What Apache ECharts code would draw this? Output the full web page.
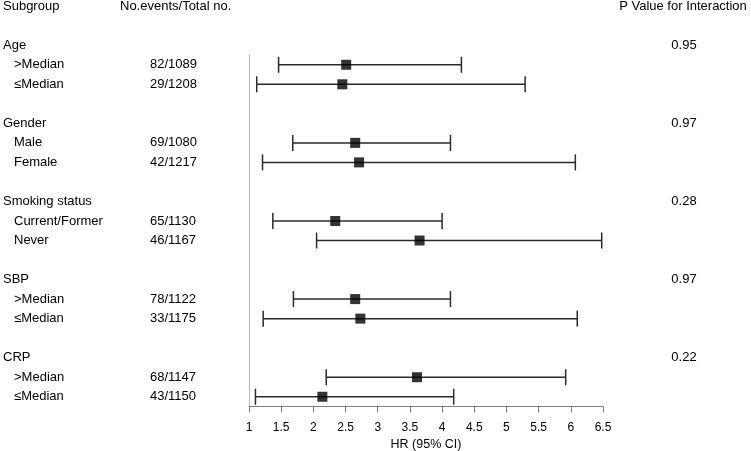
<!DOCTYPE html>
<html>
<head>
<meta charset="utf-8">
<script src="https://cdn.jsdelivr.net/npm/echarts@6/dist/echarts.min.js"></script>
<style>html,body{margin:0;padding:0;background:#fff;}#c{width:751px;height:451px;}</style>
</head>
<body>
<div id="c"></div>
<script>
// ---- data ----
const groups = ['Age', 'Gender', 'Smoking status', 'SBP', 'CRP'];
const pValues = ['0.95', '0.97', '0.28', '0.97', '0.22'];
const subgroups = ['>Median', '≤Median', 'Male', 'Female', 'Current/Former', 'Never', '>Median', '≤Median', '>Median', '≤Median'];
const counts = ['82/1089', '29/1208', '69/1080', '42/1217', '65/1130', '46/1167', '78/1122', '33/1175', '68/1147', '43/1150'];
const hr = [2.51, 2.45, 2.65, 2.71, 2.34, 3.65, 2.65, 2.73, 3.61, 2.14];
const lower = [1.46, 1.12, 1.68, 1.21, 1.37, 2.05, 1.69, 1.22, 2.20, 1.10];
const upper = [4.30, 5.29, 4.13, 6.07, 4.00, 6.48, 4.13, 6.10, 5.92, 4.18];
const headers = ['Subgroup', 'No.events/Total no.', 'P Value for Interaction'];
const xMin = 1, xMax = 6.5, xInterval = 0.5;
const xName = 'HR (95% CI)';

// rows: group g at 4g, subgroups at 4g+1, 4g+2
const subRow = subgroups.map((_, i) => Math.floor(i / 2) * 4 + 1 + (i % 2));
const groupRow = groups.map((_, g) => g * 4);

const chart = echarts.init(document.getElementById('c'), null, {renderer: 'canvas'});
const FONT = 'Liberation Sans, Arial, sans-serif';

chart.setOption({
  animation: false,
  backgroundColor: '#fff',
  grid: {left: 249, right: 148, top: 55, bottom: 44.5, containLabel: false, outerBoundsMode: 'none'},
  xAxis: {
    type: 'value', min: xMin, max: xMax, interval: xInterval,
    name: xName, nameLocation: 'middle', nameGap: 30,
    nameTextStyle: {color: '#000', fontSize: 12.5, fontFamily: FONT},
    axisLine: {show: true, lineStyle: {color: '#808080', width: 1}},
    axisTick: {show: true, length: 6, lineStyle: {color: '#808080'}},
    axisLabel: {color: '#000', fontSize: 12, fontFamily: FONT, margin: 15},
    splitLine: {show: false}
  },
  yAxis: {
    type: 'value', min: 0.5, max: 18.5, inverse: true,
    axisLine: {show: true, onZero: false, lineStyle: {color: '#b8b8b8', width: 1}},
    axisTick: {show: false}, axisLabel: {show: false}, splitLine: {show: false}
  },
  series: [
    {
      type: 'custom',
      clip: false,
      data: subgroups.map((_, i) => [lower[i], upper[i], subRow[i]]),
      renderItem: function (params, api) {
        const a = api.coord([api.value(0), api.value(2)]);
        const b = api.coord([api.value(1), api.value(2)]);
        const h = 8;
        const st = {stroke: '#2b2b2b', lineWidth: 1.5};
        return {
          type: 'group',
          children: [
            {type: 'line', shape: {x1: a[0], y1: a[1], x2: b[0], y2: b[1]}, style: st},
            {type: 'line', shape: {x1: a[0], y1: a[1] - h, x2: a[0], y2: a[1] + h}, style: st},
            {type: 'line', shape: {x1: b[0], y1: b[1] - h, x2: b[0], y2: b[1] + h}, style: st}
          ]
        };
      }
    },
    {
      type: 'scatter',
      symbol: 'rect',
      symbolSize: 10,
      itemStyle: {color: '#000'},
      data: subgroups.map((_, i) => [hr[i], subRow[i]]),
      z: 5
    }
  ]
});

// ---- text table ----
function yOf(row) { return chart.convertToPixel({yAxisIndex: 0}, row); }
const ts = (extra) => Object.assign({fill: '#000', fontSize: 13, fontFamily: FONT, verticalAlign: 'middle'}, extra);
const elements = [];
const hy = yOf(-2);
elements.push({type: 'text', x: 3, y: hy, style: ts({text: headers[0]})});
elements.push({type: 'text', x: 120, y: hy, style: ts({text: headers[1]})});
elements.push({type: 'text', x: 683, y: hy, style: ts({text: headers[2], align: 'center'})});
groups.forEach((g, i) => {
  const y = yOf(groupRow[i]);
  elements.push({type: 'text', x: 3, y: y, style: ts({text: g})});
  elements.push({type: 'text', x: 684, y: y, style: ts({text: pValues[i], align: 'center'})});
});
subgroups.forEach((s, i) => {
  const y = yOf(subRow[i]);
  elements.push({type: 'text', x: 14, y: y, style: ts({text: s})});
  elements.push({type: 'text', x: 150, y: y, style: ts({text: counts[i]})});
});
chart.setOption({graphic: {elements: elements}});
</script>
</body>
</html>
